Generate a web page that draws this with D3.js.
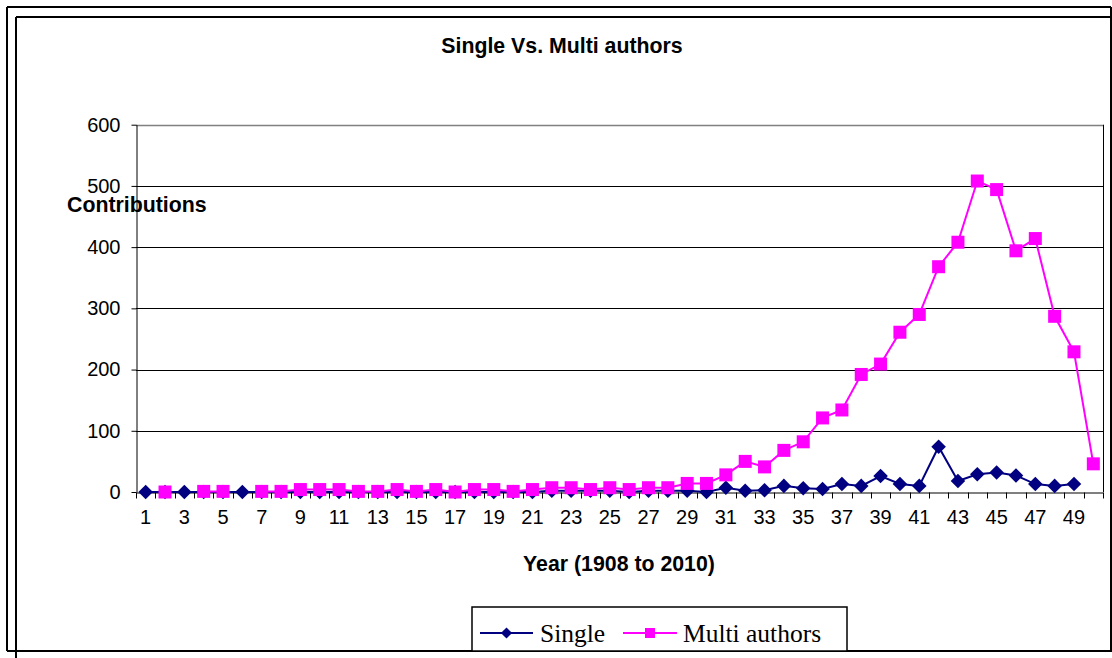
<!DOCTYPE html>
<html>
<head>
<meta charset="utf-8">
<script src="https://cdn.jsdelivr.net/npm/d3@7"></script>
<style>
  html, body { margin: 0; padding: 0; background: #fff; }
  svg { display: block; }
  text { font-family: "Liberation Sans", Arial, sans-serif; fill: #000; }
</style>
</head>
<body>
<svg id="chart" width="1112" height="658"></svg>
<script>
// ---- data ----
const categories = d3.range(1, 51);
const singleValues = [0,0,0,0,0,0,0,0,0,0, 0,0,0,0,0,0,0,0,0,0,
  0,2,2,2,2,0,2,2,2,0, 7,2,3,10,6,5,13,10,26,13,
  10,74,18,29,32,27,13,10,13,null];
const multiValues = [null,0,null,1,1,null,1,1,4,4, 4,1,1,4,1,4,0,4,4,1,
  4,7,7,4,7,4,7,7,14,14, 28,50,41,68,82,121,134,192,209,261,
  290,368,408,508,494,394,414,287,229,46];
const yTicks = [0,100,200,300,400,500,600];
const seriesNames = ["Single", "Multi authors"];
const seriesColors = ["#000080", "#FF00FF"];

const svg = d3.select("#chart");

// ---- frame ----
const frame = svg.append("g").attr("stroke", "#000").attr("stroke-width", 2).attr("fill", "none");
frame.append("line").attr("x1", 7).attr("y1", 7).attr("x2", 1111).attr("y2", 7);
frame.append("line").attr("x1", 7).attr("y1", 7).attr("x2", 7).attr("y2", 651);
frame.append("line").attr("x1", 1111).attr("y1", 7).attr("x2", 1111).attr("y2", 651);
frame.append("line").attr("x1", 7).attr("y1", 651).attr("x2", 1112).attr("y2", 651);
frame.append("line").attr("x1", 16).attr("y1", 17).attr("x2", 1111).attr("y2", 17);
frame.append("line").attr("x1", 16).attr("y1", 17).attr("x2", 16).attr("y2", 658);

// ---- scales ----
const plot = { left: 136, right: 1103, top: 124.7, bottom: 492 };
const x = d3.scaleBand().domain(categories).range([plot.left, plot.right]).padding(0);
const y = d3.scaleLinear().domain([0, 600]).range([plot.bottom, plot.top]);
const cx = d => x(d) + x.bandwidth() / 2;

// gridlines
svg.append("g").selectAll("line").data(yTicks.filter(t => t > 0)).join("line")
  .attr("x1", plot.left).attr("x2", plot.right)
  .attr("y1", d => Math.round(y(d)) + 0.5).attr("y2", d => Math.round(y(d)) + 0.5)
  .attr("stroke", d => d === 600 ? "#808080" : "#000").attr("stroke-width", d => d === 600 ? 1.5 : 1);

// right border of plot area
svg.append("line").attr("x1", plot.right + 0.5).attr("x2", plot.right + 0.5)
  .attr("y1", plot.top).attr("y2", plot.bottom).attr("stroke", "#000");

// y axis
const yAxis = svg.append("g").attr("transform", `translate(${plot.left + 0.5},0)`)
  .call(d3.axisLeft(y).tickValues(yTicks).tickSize(5).tickPadding(11).tickSizeOuter(0));
yAxis.select(".domain").attr("stroke", "#000");
yAxis.selectAll("text").style("font-size", "20px").style("font-family", "'Liberation Sans', Arial, sans-serif");

// x axis: line, boundary ticks, labels
const xAxis = svg.append("g").attr("transform", `translate(0,${Math.round(plot.bottom) + 0.5})`)
  .call(d3.axisBottom(x).tickSize(0).tickPadding(17).tickSizeOuter(0)
    .tickFormat(d => d % 2 === 1 ? String(d) : ""));
xAxis.select(".domain").attr("stroke", "#000");
xAxis.selectAll("text").style("font-size", "20px").style("font-family", "'Liberation Sans', Arial, sans-serif");
xAxis.selectAll("line.bound").data(categories.concat([null])).join("line")
  .attr("class", "bound")
  .attr("x1", d => d === null ? plot.right + 0.5 : Math.round(x(d)) + 0.5)
  .attr("x2", d => d === null ? plot.right + 0.5 : Math.round(x(d)) + 0.5)
  .attr("y1", 0).attr("y2", 6).attr("stroke", "#000");

// ---- series ----
const series = [singleValues, multiValues];
series.forEach((vals, si) => {
  const pts = categories.map((c, i) => ({ c, v: vals[i] }));
  const line = d3.line().defined(d => d.v !== null).x(d => cx(d.c)).y(d => y(d.v));
  svg.append("path").datum(pts).attr("d", line)
    .attr("fill", "none").attr("stroke", seriesColors[si]).attr("stroke-width", 2);
  const g = svg.append("g");
  const valid = pts.filter(d => d.v !== null);
  if (si === 0) {
    g.selectAll("path").data(valid).join("path")
      .attr("d", d3.symbol().type(d3.symbolDiamond2).size(135))
      .attr("transform", d => `translate(${cx(d.c)},${y(d.v)})`)
      .attr("fill", seriesColors[si]);
  } else {
    g.selectAll("rect").data(valid).join("rect")
      .attr("x", d => cx(d.c) - 6.5).attr("y", d => y(d.v) - 6.5)
      .attr("width", 13).attr("height", 13)
      .attr("fill", seriesColors[si]);
  }
});

// ---- titles ----
svg.append("text").attr("x", 562).attr("y", 53).attr("text-anchor", "middle")
  .style("font-size", "21.3px").style("font-weight", "bold").text("Single Vs. Multi authors");
svg.append("text").attr("x", 67).attr("y", 212)
  .style("font-size", "21.3px").style("font-weight", "bold").text("Contributions");
svg.append("text").attr("x", 619).attr("y", 571).attr("text-anchor", "middle")
  .style("font-size", "21.3px").style("font-weight", "bold").text("Year (1908 to 2010)");

// ---- legend ----
const lg = svg.append("g");
lg.append("rect").attr("x", 472).attr("y", 607).attr("width", 375).attr("height", 44)
  .attr("fill", "#fff").attr("stroke", "#000").attr("stroke-width", 1.5);
const legendItems = [
  { name: seriesNames[0], color: seriesColors[0], x1: 480, x2: 533, tx: 540 },
  { name: seriesNames[1], color: seriesColors[1], x1: 623, x2: 677, tx: 683 }
];
legendItems.forEach((it, i) => {
  const ly = 633;
  lg.append("line").attr("x1", it.x1).attr("x2", it.x2).attr("y1", ly).attr("y2", ly)
    .attr("stroke", it.color).attr("stroke-width", 2);
  const mx = (it.x1 + it.x2) / 2;
  if (i === 0) {
    lg.append("path").attr("d", d3.symbol().type(d3.symbolDiamond2).size(80))
      .attr("transform", `translate(${mx},${ly})`).attr("fill", it.color);
  } else {
    lg.append("rect").attr("x", mx - 5).attr("y", ly - 5).attr("width", 10).attr("height", 10)
      .attr("fill", it.color);
  }
  lg.append("text").attr("x", it.tx).attr("y", 642)
    .style("font-family", "'Liberation Serif', 'Times New Roman', serif").style("font-size", "25.5px")
    .text(it.name);
});
</script>
</body>
</html>
